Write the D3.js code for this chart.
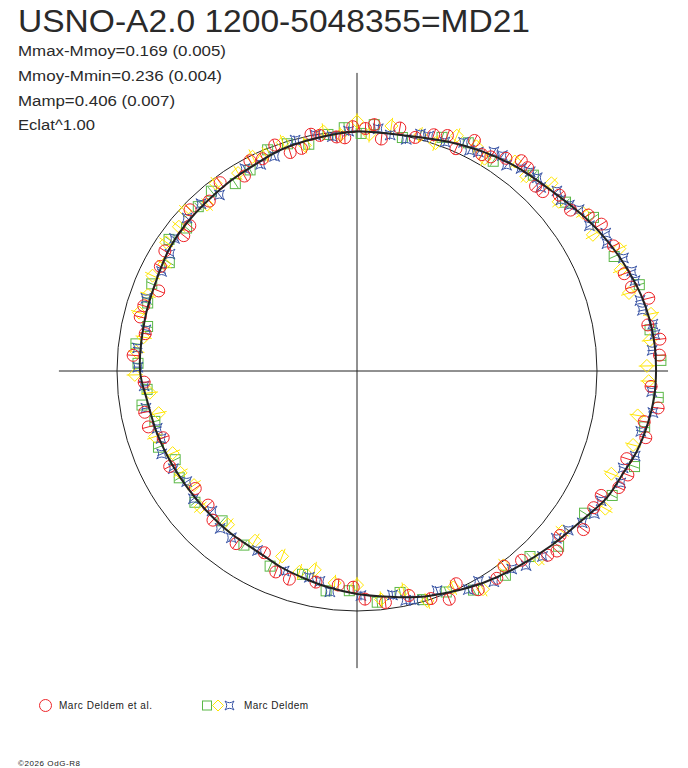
<!DOCTYPE html>
<html><head><meta charset="utf-8">
<script src="https://cdn.jsdelivr.net/npm/d3@7"></script>
<style>html,body{margin:0;padding:0;background:#fff;}svg{display:block;}</style>
</head><body>
<script>
// ---- data (angle in degrees, counter-clockwise from +x; radius relative to reference circle) ----
const titleText = "USNO-A2.0 1200-5048355=MD21";
const statLines = ["Mmax-Mmoy=0.169 (0.005)", "Mmoy-Mmin=0.236 (0.004)", "Mamp=0.406 (0.007)", "Eclat^1.00"];
const legendLabels = ["Marc Deldem et al.", "Marc Deldem"];
const copyright = "©2026 OdG-R8";

const fitCurve = [[0,1.246],[5,1.245],[10,1.238],[15,1.225],[22,1.198],[28,1.173],[34,1.145],[43,1.104],[52,1.079],[60,1.054],[68,1.029],[77,1.004],[90,0.998],[100,0.985],[109,0.975],[117,0.958],[125,0.950],[139,0.940],[147,0.933],[156,0.917],[166,0.910],[180,0.904],[188,0.883],[197,0.873],[205,0.865],[214,0.858],[222,0.856],[232,0.857],[240,0.858],[245,0.866],[249,0.877],[256,0.892],[262,0.908],[270,0.929],[278,0.950],[285,0.975],[293,1.000],[301,1.028],[309,1.054],[318,1.088],[327,1.128],[333,1.167],[339,1.188],[344,1.213],[350,1.232],[355,1.243]];

const redPts = [[3,1.262],[6,1.269],[9,1.227],[14,1.253],[17,1.196],[20,1.185],[26,1.189],[31,1.188],[34,1.162],[37,1.114],[41,1.117],[44,1.076],[46,1.071],[50,1.106],[52,1.112],[55,1.082],[58,1.052],[60,1.041],[63,1.078],[66,1.014],[69,1.051],[72,1.035],[76,1.003],[80,1.028],[84,0.972],[86,1.029],[88,1.011],[91,1.018],[93,0.973],[95,0.979],[99,0.994],[101,1.005],[104,0.956],[107,0.952],[110,1.002],[114,0.968],[117,0.983],[120,0.938],[126,0.970],[131,0.938],[136,0.967],[139,0.923],[142,0.916],[148,0.944],[152,0.928],[158,0.891],[163,0.929],[166,0.931],[170,0.896],[176,0.935],[183,0.888],[191,0.901],[195,0.900],[199,0.854],[207,0.876],[216,0.833],[222,0.835],[226,0.864],[235,0.878],[243,0.850],[248,0.903],[252,0.912],[259,0.896],[265,0.895],[269,0.901],[272,0.951],[277,0.972],[283,0.960],[288,0.997],[292,1.026],[295,0.978],[299,1.042],[304,1.042],[307,1.018],[311,1.045],[316,1.105],[318,1.121],[321,1.089],[325,1.152],[330,1.139],[333,1.142],[336,1.194],[339,1.209],[342,1.182],[347,1.235],[350,1.215],[353,1.264],[357,1.227]];

const greenPts = [[2,1.267],[8,1.233],[17,1.230],[24,1.173],[33,1.175],[39,1.118],[48,1.098],[57,1.042],[64,1.058],[70,1.036],[79,0.991],[86,1.029],[89,0.990],[93,1.015],[97,0.993],[102,0.966],[107,0.990],[112,0.994],[118,0.949],[123,0.931],[129,0.964],[134,0.952],[140,0.927],[145,0.956],[150,0.903],[157,0.929],[162,0.917],[168,0.892],[173,0.928],[178,0.913],[185,0.878],[189,0.907],[194,0.868],[201,0.886],[206,0.843],[211,0.864],[219,0.869],[228,0.840],[237,0.865],[246,0.890],[255,0.877],[262,0.925],[268,0.916],[275,0.967],[281,0.940],[286,0.991],[292,0.993],[298,1.034],[306,1.052],[313,1.057],[319,1.113],[328,1.118],[334,1.183],[341,1.223],[349,1.221],[355,1.260]];

const yellowPts = [[1,1.208],[6,1.227],[11,1.248],[16,1.179],[21,1.177],[25,1.206],[30,1.135],[35,1.149],[40,1.097],[44,1.126],[49,1.075],[53,1.093],[59,1.032],[62,1.060],[67,1.065],[71,1.004],[75,1.018],[82,1.031],[87,0.987],[90,1.040],[94,0.985],[98,1.008],[103,0.965],[108,1.001],[113,0.979],[116,0.993],[121,0.962],[127,0.978],[132,0.933],[137,0.979],[141,0.955],[146,0.959],[151,0.918],[155,0.940],[160,0.927],[165,0.940],[171,0.900],[175,0.923],[181,0.926],[186,0.868],[192,0.845],[198,0.885],[204,0.841],[210,0.849],[215,0.829],[221,0.865],[230,0.836],[239,0.825],[248,0.833],[254,0.871],[258,0.847],[264,0.888],[270,0.892],[276,0.957],[282,0.935],[287,1.002],[294,0.987],[300,1.050],[307,1.014],[314,1.090],[322,1.085],[331,1.183],[338,1.143],[345,1.191],[351,1.184],[358,1.216]];

const bluePts = [[4,1.233],[7,1.251],[9,1.248],[12,1.216],[14,1.215],[18,1.218],[20,1.218],[23,1.206],[27,1.169],[29,1.185],[32,1.142],[36,1.144],[38,1.123],[40,1.109],[42,1.121],[45,1.082],[47,1.101],[49,1.100],[51,1.086],[54,1.060],[56,1.083],[58,1.077],[61,1.043],[63,1.032],[65,1.051],[69,1.022],[73,1.023],[75,1.022],[78,0.987],[82,0.993],[85,1.013],[92,1.000],[96,0.982],[100,0.998],[105,0.996],[111,0.958],[115,0.950],[119,0.964],[128,0.931],[133,0.953],[138,0.953],[144,0.940],[148,0.919],[153,0.914],[161,0.930],[169,0.896],[174,0.919],[179,0.913],[184,0.889],[190,0.893],[196,0.866],[199,0.863],[203,0.884],[208,0.867],[213,0.846],[218,0.865],[224,0.840],[229,0.869],[233,0.870],[241,0.855],[250,0.887],[257,0.882],[260,0.890],[263,0.927],[271,0.936],[279,0.945],[282,0.977],[284,0.984],[290,0.974],[297,1.022],[300,1.012],[303,1.047],[308,1.047],[311,1.074],[315,1.093],[320,1.084],[323,1.102],[326,1.132],[329,1.154],[332,1.152],[337,1.194],[340,1.180],[343,1.212],[348,1.209],[352,1.245],[356,1.231]];

const errorHalf = {red:0.026, green:0.022, yellow:0.034, blue:0.020};
const axisExtent = {left:-1.242, right:1.296, top:1.242, bottom:-1.238};

// ---- layout ----
const W = 688, H = 768, cx = 357, cy = 371;
const colors = {red:"#ee2529", green:"#5bb847", yellow:"#ffe600", blue:"#3a55a6"};

const svg = d3.select("body").append("svg").attr("width", W).attr("height", H);
svg.append("rect").attr("width", W).attr("height", H).attr("fill", "#fff");

const rScale = d3.scaleLinear().domain([0, 1]).range([0, 240]);
const aScale = d3.scaleLinear().domain([0, 360]).range([0, 2 * Math.PI]);
const px = (a, r) => cx + rScale(r) * Math.cos(aScale(a));
const py = (a, r) => cy - rScale(r) * Math.sin(aScale(a));

// axes
const g = svg.append("g");
g.append("line").attr("x1", cx + rScale(axisExtent.left)).attr("x2", cx + rScale(axisExtent.right))
  .attr("y1", cy).attr("y2", cy).attr("stroke", "#222").attr("stroke-width", 1);
g.append("line").attr("x1", cx).attr("x2", cx)
  .attr("y1", cy - rScale(axisExtent.top)).attr("y2", cy - rScale(axisExtent.bottom))
  .attr("stroke", "#222").attr("stroke-width", 1);
// reference circle
g.append("circle").attr("cx", cx).attr("cy", cy).attr("r", rScale(1))
  .attr("fill", "none").attr("stroke", "#222").attr("stroke-width", 1);

// marker shapes
const starPath = s => `M${-s},${-s}Q0,${-s*0.25} ${s},${-s}Q${s*0.25},0 ${s},${s}Q0,${s*0.25} ${-s},${s}Q${-s*0.25},0 ${-s},${-s}Z`;
function drawMarker(sel, type, x, y) {
  const c = colors[type];
  if (type === "red") sel.append("circle").attr("cx", x).attr("cy", y).attr("r", 6).attr("fill", "none").attr("stroke", c);
  else if (type === "green") sel.append("rect").attr("x", x - 5).attr("y", y - 5).attr("width", 10).attr("height", 10).attr("fill", "none").attr("stroke", c);
  else if (type === "yellow") sel.append("path").attr("d", `M${x},${y-6.5}L${x+6.5},${y}L${x},${y+6.5}L${x-6.5},${y}Z`).attr("fill", "none").attr("stroke", c);
  else sel.append("path").attr("d", starPath(5)).attr("transform", `translate(${x},${y})`).attr("fill", "none").attr("stroke", c);
}

function drawSeries(pts, type) {
  const sg = svg.append("g");
  const e = errorHalf[type];
  pts.forEach(([a, r]) => {
    sg.append("line").attr("x1", px(a, r - e)).attr("y1", py(a, r - e))
      .attr("x2", px(a, r + e)).attr("y2", py(a, r + e))
      .attr("stroke", colors[type]).attr("stroke-width", 1);
    drawMarker(sg, type, px(a, r), py(a, r));
  });
}
drawSeries(greenPts, "green");
drawSeries(yellowPts, "yellow");
drawSeries(bluePts, "blue");
drawSeries(redPts, "red");

// fitted curve
const line = d3.line().x(d => px(d[0], d[1])).y(d => py(d[0], d[1])).curve(d3.curveCatmullRomClosed);
svg.append("path").attr("d", line(fitCurve)).attr("fill", "none").attr("stroke", "#222").attr("stroke-width", 2);

// texts
const font = "'Liberation Sans', Arial, sans-serif";
svg.append("text").attr("x", 18).attr("y", 32).attr("font-family", font).attr("font-size", 31)
  .attr("fill", "#2a2a2a").attr("textLength", 512).attr("lengthAdjust", "spacingAndGlyphs").text(titleText);
const statY = [56, 81, 106, 130], statW = [208, 204, 157, 77];
statLines.forEach((t, i) => {
  svg.append("text").attr("x", 18).attr("y", statY[i]).attr("font-family", font).attr("font-size", 15.5)
    .attr("fill", "#2a2a2a").attr("textLength", statW[i]).attr("lengthAdjust", "spacingAndGlyphs").text(t);
});

// legend
const lg = svg.append("g");
drawMarker(lg, "red", 45.5, 705.5);
lg.append("text").attr("x", 59).attr("y", 709).attr("font-family", font).attr("font-size", 10)
  .attr("fill", "#222").attr("textLength", 93).attr("lengthAdjust", "spacing").text(legendLabels[0]);
lg.append("rect").attr("x", 202.5).attr("y", 701).attr("width", 9).attr("height", 9).attr("fill", "none").attr("stroke", colors.green);
lg.append("path").attr("d", "M218,700L223.5,705.5L218,711L212.5,705.5Z").attr("fill", "none").attr("stroke", colors.yellow);
lg.append("path").attr("d", starPath(4.5)).attr("transform", "translate(229.5,705.5)").attr("fill", "none").attr("stroke", colors.blue);
lg.append("text").attr("x", 244).attr("y", 709).attr("font-family", font).attr("font-size", 10)
  .attr("fill", "#222").attr("textLength", 64).attr("lengthAdjust", "spacing").text(legendLabels[1]);

svg.append("text").attr("x", 18).attr("y", 766).attr("font-family", font).attr("font-size", 8)
  .attr("fill", "#222").attr("textLength", 62).attr("lengthAdjust", "spacing").text(copyright);
</script>
</body></html>
